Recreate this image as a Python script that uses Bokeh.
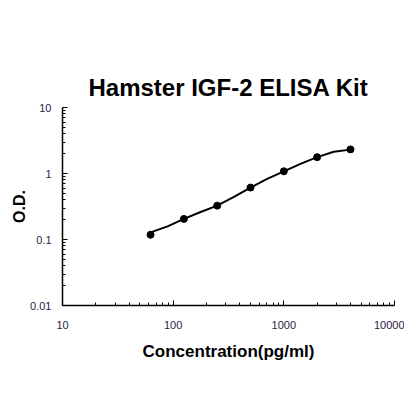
import numpy as np
from bokeh.plotting import figure
from bokeh.models import FixedTicker, CustomJSTickFormatter
from bokeh.embed import file_html
from bokeh.resources import INLINE

# Standards (concentration pg/ml) and measured O.D.
conc = [62.5, 125, 250, 500, 1000, 2000, 4000]
od = [0.118, 0.205, 0.326, 0.612, 1.08, 1.77, 2.32]

# Fitted standard curve
curve_x = [62.5, 89, 125, 177, 250, 354, 500, 707, 1000, 1414, 2000, 2828, 4000]
curve_y = [0.128, 0.158, 0.205, 0.261, 0.326, 0.442, 0.612, 0.83, 1.08, 1.40, 1.77, 2.14, 2.3]

x_ticks = [10, 100, 1000, 10000]
y_ticks = [0.01, 0.1, 1, 10]

title_text = "Hamster IGF-2 ELISA Kit"
x_label = "Concentration(pg/ml)"
y_label = "O.D."

def minor(ticks):
    out = []
    for t in ticks[:-1]:
        out += [m * t for m in range(2, 10)]
    return out

p = figure(width=404, height=404, x_axis_type="log", y_axis_type="log",
           x_range=(x_ticks[0], x_ticks[-1]), y_range=(y_ticks[0], y_ticks[-1]),
           output_backend="svg", toolbar_location=None,
           min_border_left=62, min_border_right=10, min_border_top=107, min_border_bottom=99)

p.title.text = title_text
p.title.text_font = "Liberation Sans"
p.title.text_font_size = "24px"
p.title.text_font_style = "bold"
p.title.align = "center"
p.title.text_color = "#000000"
p.title.standoff = 13

p.outline_line_color = None
p.xgrid.grid_line_color = None
p.ygrid.grid_line_color = None
p.background_fill_color = "white"
p.border_fill_color = "white"

fmt = CustomJSTickFormatter(code="return tick.toString();")
for ax, ticks in ((p.xaxis[0], x_ticks), (p.yaxis[0], y_ticks)):
    ax.ticker = FixedTicker(ticks=ticks, minor_ticks=minor(ticks))
    ax.formatter = fmt
    ax.major_tick_in = 5
    ax.major_tick_out = 0
    ax.minor_tick_in = 3
    ax.minor_tick_out = 0
    ax.axis_line_color = "black"
    ax.axis_line_width = 1.5
    ax.major_tick_line_color = "black"
    ax.minor_tick_line_color = "black"
    ax.major_label_text_font = "Liberation Sans"
    ax.major_label_text_font_size = "11px"
    ax.major_label_text_color = "#2b2145"
    ax.axis_label_text_font = "Liberation Sans"
    ax.axis_label_text_font_style = "bold"
    ax.axis_label_text_color = "black"

p.xaxis.axis_label = x_label
p.xaxis.axis_label_text_font_size = "17px"
p.xaxis.major_label_standoff = 15
p.xaxis.axis_label_standoff = 10

p.yaxis.axis_label = y_label
p.yaxis.axis_label_text_font_size = "16px"
p.yaxis.major_label_standoff = 11
p.yaxis.axis_label_standoff = -1

p.line(curve_x, curve_y, line_color="black", line_width=2)
p.scatter(conc, od, size=7, fill_color="black", line_color="black")

open("out.html", "w").write(file_html(p, INLINE))
